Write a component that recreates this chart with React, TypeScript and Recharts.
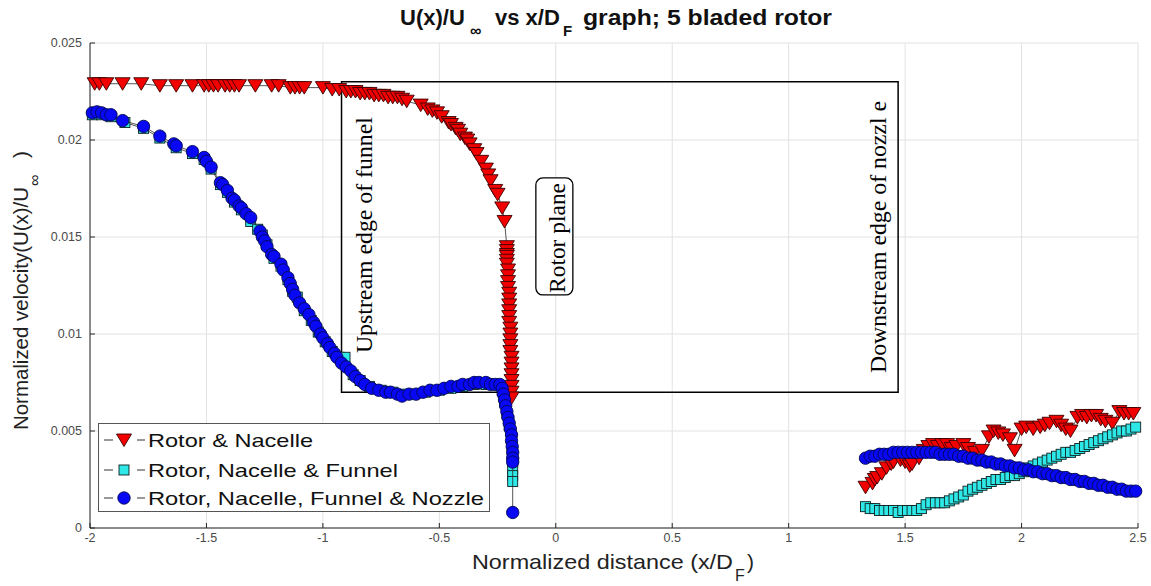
import React from "react"
import { CartesianGrid, ReferenceArea, ReferenceDot, Scatter, ScatterChart, XAxis, YAxis } from "recharts"

// Axial velocity along the centre line, three rotor configurations.
// Each series is split in two: upstream of the rotor and downstream of the nozzle.
type Pt = [number, number]

const X_TICKS = [-2, -1.5, -1, -0.5, 0, 0.5, 1, 1.5, 2, 2.5]
const Y_TICKS = [0, 0.005, 0.01, 0.015, 0.02, 0.025]

const nacelleUpstream: Pt[] = [
  [-1.98, 0.0229], [-1.96, 0.0229], [-1.93, 0.0229], [-1.86, 0.0229], [-1.78, 0.0229], [-1.7, 0.0228],
  [-1.63, 0.0228], [-1.56, 0.0228], [-1.51, 0.0228], [-1.49, 0.0228], [-1.47, 0.0228], [-1.45, 0.0228],
  [-1.42, 0.0228], [-1.4, 0.0228], [-1.38, 0.0228], [-1.36, 0.0228], [-1.29, 0.0228], [-1.22, 0.0228],
  [-1.19, 0.0228], [-1.14, 0.0227], [-1.12, 0.0227], [-1.1, 0.0227], [-1.08, 0.0227], [-1.0, 0.0227],
  [-0.96, 0.0226], [-0.93, 0.0226], [-0.9, 0.0225], [-0.88, 0.0225], [-0.86, 0.0225], [-0.84, 0.0224],
  [-0.82, 0.0224], [-0.8, 0.0224], [-0.78, 0.0223], [-0.76, 0.0223], [-0.74, 0.0223], [-0.72, 0.0222],
  [-0.7, 0.0222], [-0.68, 0.0222], [-0.66, 0.0221], [-0.64, 0.022], [-0.58, 0.0218], [-0.55, 0.0216],
  [-0.53, 0.0215], [-0.51, 0.0214], [-0.49, 0.0212], [-0.46, 0.0209], [-0.45, 0.0208], [-0.43, 0.0206],
  [-0.42, 0.0205], [-0.41, 0.0203], [-0.39, 0.0201], [-0.38, 0.02], [-0.37, 0.0198], [-0.35, 0.0195],
  [-0.34, 0.0193], [-0.32, 0.0189], [-0.3, 0.0185], [-0.29, 0.0182], [-0.28, 0.0179], [-0.26, 0.0174],
  [-0.25, 0.0172], [-0.23, 0.0165], [-0.22, 0.0158], [-0.21, 0.0145], [-0.21, 0.0143], [-0.21, 0.0141],
  [-0.21, 0.014], [-0.21, 0.0138], [-0.21, 0.0136], [-0.205, 0.0133], [-0.205, 0.013], [-0.205, 0.0127],
  [-0.205, 0.0124], [-0.2, 0.0121], [-0.2, 0.0118], [-0.2, 0.0115], [-0.2, 0.0112], [-0.2, 0.0109],
  [-0.2, 0.0106], [-0.195, 0.0103], [-0.195, 0.01], [-0.195, 0.0097], [-0.195, 0.0094], [-0.195, 0.0091],
  [-0.19, 0.0088], [-0.19, 0.0085], [-0.19, 0.0082], [-0.19, 0.0079], [-0.19, 0.0076], [-0.19, 0.0073],
  [-0.19, 0.007], [-0.19, 0.0067],
]

const nacelleDownstream: Pt[] = [
  [1.33, 0.0021], [1.36, 0.0023], [1.37, 0.0025], [1.38, 0.0026], [1.4, 0.0028], [1.42, 0.0031],
  [1.44, 0.0033], [1.45, 0.0034], [1.48, 0.0035], [1.5, 0.0034], [1.52, 0.0032], [1.53, 0.0033],
  [1.56, 0.0036], [1.58, 0.004], [1.6, 0.0042], [1.62, 0.0043], [1.64, 0.0042], [1.66, 0.0043],
  [1.68, 0.0043], [1.7, 0.0041], [1.72, 0.0042], [1.75, 0.0043], [1.77, 0.0041], [1.8, 0.0039],
  [1.83, 0.004], [1.86, 0.0047], [1.88, 0.005], [1.9, 0.0049], [1.92, 0.0048], [1.95, 0.0046],
  [1.97, 0.004], [2.0, 0.0051], [2.02, 0.0052], [2.05, 0.0051], [2.08, 0.0052], [2.1, 0.0053],
  [2.12, 0.0054], [2.15, 0.0055], [2.17, 0.0053], [2.19, 0.0051], [2.21, 0.005], [2.24, 0.0057],
  [2.26, 0.0058], [2.28, 0.0057], [2.3, 0.0058], [2.32, 0.0058], [2.34, 0.0056], [2.36, 0.0055],
  [2.39, 0.0054], [2.42, 0.006], [2.44, 0.0059], [2.46, 0.0059], [2.48, 0.0059],
]

const funnelUpstream: Pt[] = [
  [-1.99, 0.0213], [-1.95, 0.0213], [-1.91, 0.0212], [-1.85, 0.0209], [-1.77, 0.0206], [-1.7, 0.0201],
  [-1.63, 0.0196], [-1.56, 0.0193], [-1.51, 0.019], [-1.48, 0.0185], [-1.44, 0.0177], [-1.41, 0.0173],
  [-1.38, 0.0168], [-1.35, 0.0164], [-1.31, 0.0158], [-1.28, 0.0154], [-1.26, 0.0151], [-1.24, 0.0146],
  [-1.21, 0.0139], [-1.18, 0.0135], [-1.15, 0.0128], [-1.13, 0.0122], [-1.11, 0.0119], [-1.08, 0.0112],
  [-1.05, 0.0107], [-1.02, 0.0101], [-0.99, 0.0096], [-0.96, 0.0091], [-0.93, 0.0088], [-0.905, 0.0088],
  [-0.87, 0.0079], [-0.84, 0.0076], [-0.8, 0.0073], [-0.75, 0.0071], [-0.7, 0.007], [-0.66, 0.0069],
  [-0.61, 0.0069], [-0.56, 0.007], [-0.5, 0.0071], [-0.45, 0.0072], [-0.4, 0.0073], [-0.35, 0.0074],
  [-0.3, 0.0074], [-0.26, 0.0074], [-0.23, 0.0071], [-0.22, 0.0065], [-0.21, 0.0059], [-0.2, 0.0053],
  [-0.19, 0.0046], [-0.187, 0.004], [-0.185, 0.0034], [-0.185, 0.003], [-0.185, 0.0027], [-0.185, 0.0024],
]

const funnelDownstream: Pt[] = [
  [1.33, 0.0011], [1.35, 0.001], [1.37, 0.001], [1.39, 0.0009], [1.41, 0.0009], [1.43, 0.0009],
  [1.45, 0.0009], [1.47, 0.0008], [1.49, 0.0009], [1.51, 0.0009], [1.53, 0.0009], [1.55, 0.0009],
  [1.57, 0.001], [1.59, 0.0012], [1.61, 0.0013], [1.63, 0.0013], [1.65, 0.0013], [1.67, 0.0013],
  [1.69, 0.0014], [1.71, 0.0015], [1.73, 0.0016], [1.75, 0.0017], [1.77, 0.0019], [1.79, 0.002],
  [1.81, 0.0021], [1.83, 0.0022], [1.85, 0.0023], [1.87, 0.0024], [1.89, 0.0025], [1.91, 0.0025],
  [1.93, 0.0026], [1.95, 0.0027], [1.97, 0.0027], [1.99, 0.0028], [2.01, 0.0029], [2.03, 0.0031],
  [2.05, 0.0032], [2.07, 0.0033], [2.09, 0.0034], [2.11, 0.0035], [2.13, 0.0036], [2.15, 0.0037],
  [2.17, 0.0038], [2.19, 0.0039], [2.21, 0.0039], [2.23, 0.004], [2.25, 0.0041], [2.27, 0.0042],
  [2.29, 0.0043], [2.31, 0.0044], [2.33, 0.0045], [2.35, 0.0046], [2.37, 0.0047], [2.39, 0.0048],
  [2.41, 0.0049], [2.43, 0.005], [2.45, 0.005], [2.47, 0.0051], [2.49, 0.0052],
]

const nozzleUpstream: Pt[] = [
  [-1.99, 0.0214], [-1.97, 0.02145], [-1.95, 0.0214], [-1.93, 0.0213], [-1.91, 0.0213], [-1.86, 0.021],
  [-1.77, 0.0207], [-1.7, 0.0202], [-1.64, 0.0198], [-1.63, 0.0197], [-1.56, 0.0194], [-1.51, 0.0191],
  [-1.5, 0.0189], [-1.48, 0.0186], [-1.44, 0.0178], [-1.43, 0.0177], [-1.41, 0.0174], [-1.39, 0.017],
  [-1.38, 0.0169], [-1.36, 0.0166], [-1.35, 0.0165], [-1.33, 0.0162], [-1.31, 0.016], [-1.27, 0.0153],
  [-1.26, 0.015], [-1.25, 0.0148], [-1.24, 0.0145], [-1.22, 0.0141], [-1.21, 0.014], [-1.18, 0.0136],
  [-1.17, 0.0133], [-1.15, 0.0129], [-1.14, 0.0126], [-1.13, 0.0123], [-1.12, 0.012], [-1.1, 0.0116],
  [-1.08, 0.0113], [-1.06, 0.011], [-1.04, 0.0106], [-1.03, 0.0104], [-1.01, 0.01], [-1.0, 0.0098],
  [-0.98, 0.0095], [-0.97, 0.0093], [-0.95, 0.009], [-0.94, 0.0088], [-0.92, 0.0085], [-0.9, 0.0083],
  [-0.88, 0.0081], [-0.86, 0.0078], [-0.84, 0.0076], [-0.82, 0.0074], [-0.79, 0.0072], [-0.76, 0.0071],
  [-0.73, 0.007], [-0.71, 0.007], [-0.68, 0.0069], [-0.66, 0.0068], [-0.63, 0.0069], [-0.6, 0.0069],
  [-0.57, 0.007], [-0.54, 0.0071], [-0.51, 0.0071], [-0.48, 0.0072], [-0.45, 0.0073], [-0.42, 0.0073],
  [-0.4, 0.0074], [-0.37, 0.0074], [-0.35, 0.0075], [-0.33, 0.0075], [-0.3, 0.0075], [-0.28, 0.0074],
  [-0.26, 0.0074], [-0.24, 0.0074], [-0.23, 0.0072], [-0.225, 0.0069], [-0.22, 0.0066], [-0.215, 0.0063],
  [-0.21, 0.006], [-0.205, 0.0057], [-0.2, 0.0054], [-0.195, 0.0051], [-0.19, 0.0048], [-0.19, 0.0045],
  [-0.187, 0.0042], [-0.185, 0.0039], [-0.185, 0.0036], [-0.185, 0.0034], [-0.185, 0.0008],
]

const nozzleDownstream: Pt[] = [
  [1.33, 0.0036], [1.35, 0.0037], [1.37, 0.0037], [1.39, 0.0038], [1.41, 0.0038], [1.43, 0.0038],
  [1.45, 0.0039], [1.47, 0.0039], [1.49, 0.0039], [1.51, 0.0039], [1.53, 0.0039], [1.55, 0.0039],
  [1.57, 0.0039], [1.59, 0.0039], [1.61, 0.0039], [1.63, 0.0039], [1.65, 0.0038], [1.67, 0.0038],
  [1.69, 0.0038], [1.71, 0.0038], [1.73, 0.0037], [1.75, 0.0037], [1.77, 0.0036], [1.79, 0.0036],
  [1.81, 0.0035], [1.83, 0.0035], [1.85, 0.0034], [1.87, 0.0034], [1.89, 0.0033], [1.91, 0.0033],
  [1.93, 0.0032], [1.95, 0.0032], [1.97, 0.0031], [1.99, 0.0031], [2.01, 0.003], [2.03, 0.003],
  [2.05, 0.0029], [2.07, 0.0029], [2.09, 0.0028], [2.11, 0.0028], [2.13, 0.0027], [2.15, 0.0027],
  [2.17, 0.0026], [2.19, 0.0026], [2.21, 0.0025], [2.23, 0.0025], [2.25, 0.0024], [2.27, 0.0024],
  [2.29, 0.0023], [2.31, 0.0023], [2.33, 0.0022], [2.35, 0.0022], [2.37, 0.0021], [2.39, 0.0021],
  [2.41, 0.002], [2.43, 0.002], [2.45, 0.0019], [2.47, 0.0019], [2.49, 0.0019],
]

const SERIES_NAMES = ["Rotor & Nacelle", "Rotor, Nacelle & Funnel", "Rotor, Nacelle, Funnel & Nozzle"]

const toPoints = (pts: Pt[]) => pts.map(([x, y]) => ({ x, y }))

const SANS = "'Liberation Sans', Arial, sans-serif"
const SERIF = "'Liberation Serif', 'Times New Roman', serif"
const AXIS_COLOR = "#262626"
const JOIN_LINE = { stroke: "#2a2a2a", strokeWidth: 0.8 }

const RED = "#f20000"
const CYAN = "#2ee8e8"
const BLUE = "#0808f5"

function TriangleMark({ cx, cy }: any) {
  if (cx == null || cy == null) return null
  return (
    <polygon
      points={`${cx - 7.5},${cy - 6} ${cx + 7.5},${cy - 6} ${cx},${cy + 6.5}`}
      fill={RED}
      stroke="#3a0000"
      strokeWidth={0.9}
    />
  )
}

function SquareMark({ cx, cy }: any) {
  if (cx == null || cy == null) return null
  return <rect x={cx - 5} y={cy - 5} width={10} height={10} fill={CYAN} stroke="#102020" strokeWidth={0.9} />
}

function CircleMark({ cx, cy }: any) {
  if (cx == null || cy == null) return null
  return <circle cx={cx} cy={cy} r={6.2} fill={BLUE} stroke="#000850" strokeWidth={0.9} />
}

// vertical annotation; (cx, cy) is the baseline centre after rotation
function verticalNote(text: string, size: number, length: number) {
  return ({ cx, cy }: any) => (
    <text
      x={cx}
      y={cy}
      transform={`rotate(-90 ${cx} ${cy})`}
      textAnchor="middle"
      fontFamily={SERIF}
      fontSize={size}
      textLength={length}
      lengthAdjust="spacingAndGlyphs"
      fill="#000"
    >
      {text}
    </text>
  )
}

function RotorPlaneNote({ cx, cy }: any) {
  return (
    <g>
      <rect x={cx - 29} y={cy - 60} width={37} height={117} rx={7} fill="#fff" stroke="#000" strokeWidth={1.3} />
      <text
        x={cx}
        y={cy}
        transform={`rotate(-90 ${cx} ${cy})`}
        textAnchor="middle"
        fontFamily={SERIF}
        fontSize={23}
        textLength={110}
        lengthAdjust="spacingAndGlyphs"
      >
        Rotor plane
      </text>
    </g>
  )
}

function XLabel() {
  return (
    <g fontFamily={SANS} fill="#222">
      <text x={472} y={569} fontSize={21} textLength={261} lengthAdjust="spacingAndGlyphs">
        Normalized distance (x/D
      </text>
      <text x={735} y={581} fontSize={16}>F</text>
      <text x={747} y={569} fontSize={21}>)</text>
    </g>
  )
}

function YLabel() {
  return (
    <g fontFamily={SANS} fill="#222">
      <text x={28} y={430} transform="rotate(-90 28 430)" fontSize={21} textLength={243} lengthAdjust="spacingAndGlyphs">
        Normalized velocity(U(x)/U
      </text>
      <text x={40} y={186} transform="rotate(-90 40 186)" fontSize={16}>∞</text>
      <text x={28} y={158} transform="rotate(-90 28 158)" fontSize={21}>)</text>
    </g>
  )
}

function LegendSymbol({ index, y }: { index: number; y: number }) {
  const Mark = [TriangleMark, SquareMark, CircleMark][index] as any
  return (
    <g>
      <line x1={104} x2={113} y1={y} y2={y} stroke="#333" strokeWidth={1} />
      <line x1={137} x2={145} y1={y} y2={y} stroke="#333" strokeWidth={1} />
      <Mark cx={124} cy={y} />
    </g>
  )
}

const LEGEND_ROWS = [440, 470, 498]
const LEGEND_WIDTHS = [165, 250, 336]

export default function App() {
  return (
    <div style={{ position: "absolute", left: 0, top: 0, width: 1151, height: 586, background: "#fff" }}>
      <ScatterChart width={1151} height={586} margin={{ top: 43, right: 13, bottom: 0, left: 0 }}>
        <CartesianGrid stroke="#e2e2e2" strokeWidth={1} />
        <XAxis
          type="number"
          dataKey="x"
          domain={[-2, 2.5]}
          ticks={X_TICKS}
          height={58}
          tickSize={-5}
          tickMargin={10}
          stroke={AXIS_COLOR}
          tick={{ fontFamily: SANS, fontSize: 12.5, fill: "#4a4a4a" }}
          label={{ content: () => <XLabel /> }}
        />
        <XAxis
          xAxisId="top"
          orientation="top"
          type="number"
          domain={[-2, 2.5]}
          ticks={X_TICKS}
          height={0}
          tickSize={-5}
          tick={false}
          stroke={AXIS_COLOR}
        />
        <YAxis
          type="number"
          dataKey="y"
          domain={[0, 0.025]}
          ticks={Y_TICKS}
          width={90}
          tickSize={-5}
          tickMargin={13}
          stroke={AXIS_COLOR}
          tick={{ fontFamily: SANS, fontSize: 12.5, fill: "#4a4a4a" }}
          label={{ content: () => <YLabel /> }}
        />
        <YAxis
          yAxisId="right"
          orientation="right"
          type="number"
          domain={[0, 0.025]}
          ticks={Y_TICKS}
          width={0}
          tickSize={-5}
          tick={false}
          stroke={AXIS_COLOR}
        />

        <ReferenceArea
          x1={-0.92}
          x2={1.47}
          y1={0.007}
          y2={0.023}
          fill="none"
          stroke="#000"
          strokeWidth={1.5}
          fillOpacity={0}
          ifOverflow="visible"
        />

        <Scatter name={SERIES_NAMES[0]} data={toPoints(nacelleUpstream)} shape={TriangleMark} line={JOIN_LINE} isAnimationActive={false} />
        <Scatter name={SERIES_NAMES[0]} data={toPoints(nacelleDownstream)} shape={TriangleMark} line={JOIN_LINE} isAnimationActive={false} />
        <Scatter name={SERIES_NAMES[1]} data={toPoints(funnelUpstream)} shape={SquareMark} line={JOIN_LINE} isAnimationActive={false} />
        <Scatter name={SERIES_NAMES[1]} data={toPoints(funnelDownstream)} shape={SquareMark} line={JOIN_LINE} isAnimationActive={false} />
        <Scatter name={SERIES_NAMES[2]} data={toPoints(nozzleUpstream)} shape={CircleMark} line={JOIN_LINE} isAnimationActive={false} />
        <Scatter name={SERIES_NAMES[2]} data={toPoints(nozzleDownstream)} shape={CircleMark} line={JOIN_LINE} isAnimationActive={false} />

        <ReferenceDot x={-0.79} y={0.0151} r={0} shape={verticalNote("Upstream edge of funnel", 23, 236)} ifOverflow="visible" />
        <ReferenceDot x={0.039} y={0.01495} r={0} shape={RotorPlaneNote} ifOverflow="visible" />
        <ReferenceDot x={1.42} y={0.015} r={0} shape={verticalNote("Downstream edge of  nozzl e", 23, 272)} ifOverflow="visible" />
      </ScatterChart>

      {/* title and legend box sit over the plot */}
      <svg width={1151} height={586} style={{ position: "absolute", left: 0, top: 0, pointerEvents: "none" }}>
        <g fontFamily={SANS} fontWeight="bold" fill="#111">
          <text x={400} y={25} fontSize={22}>U(x)/U</text>
          <text x={470} y={36} fontSize={16}>∞</text>
          <text x={495} y={25} fontSize={22}>vs x/D</text>
          <text x={563} y={36} fontSize={15}>F</text>
          <text x={583} y={25} fontSize={22} textLength={249} lengthAdjust="spacingAndGlyphs">
            graph; 5 bladed rotor
          </text>
        </g>

        <rect x={98.5} y={423.5} width={391} height={88} fill="#fff" stroke="#555" strokeWidth={1} />
        {SERIES_NAMES.map((name, i) => (
          <g key={name}>
            <LegendSymbol index={i} y={LEGEND_ROWS[i]} />
            <text
              x={148}
              y={LEGEND_ROWS[i] + 7}
              fontFamily={SANS}
              fontSize={19}
              textLength={LEGEND_WIDTHS[i]}
              lengthAdjust="spacingAndGlyphs"
              fill="#111"
            >
              {name}
            </text>
          </g>
        ))}
      </svg>
    </div>
  )
}
